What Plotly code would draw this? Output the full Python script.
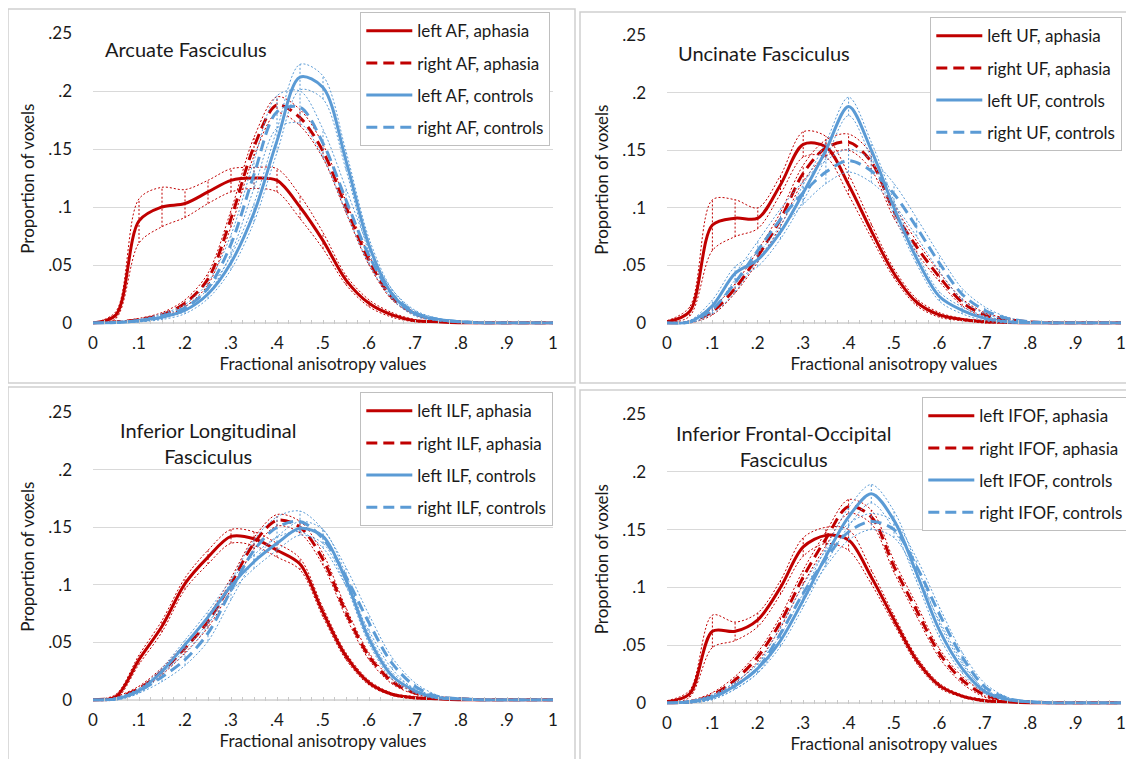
import plotly.graph_objects as go

# ---------------- data ----------------
fa_values = [round(0.05 * i, 2) for i in range(21)]

x_tick_vals = [0, 0.1, 0.2, 0.3, 0.4, 0.5, 0.6, 0.7, 0.8, 0.9, 1.0]
x_tick_text = ["0", ".1", ".2", ".3", ".4", ".5", ".6", ".7", ".8", ".9", "1"]
y_tick_vals = [0, 0.05, 0.1, 0.15, 0.2, 0.25]
y_tick_text = ["0", ".05", ".1", ".15", ".2", ".25"]

panel_titles = ["Arcuate Fasciculus", "Uncinate Fasciculus",
                "Inferior Longitudinal<br>Fasciculus",
                "Inferior Frontal-Occipital<br>Fasciculus"]
tract_abbr = ["AF", "UF", "ILF", "IFOF"]

# Arcuate Fasciculus
af_left_aph = [0, 0.007, 0.088, 0.100, 0.103, 0.113, 0.123, 0.125, 0.123, 0.100, 0.071, 0.037, 0.017, 0.007, 0.002, 0.001, 0, 0, 0, 0, 0]
af_left_aph_ci = [0, 0.003, 0.019, 0.017, 0.012, 0.010, 0.010, 0.009, 0.010, 0.010, 0.007, 0.004, 0.003, 0.002, 0.001, 0, 0, 0, 0, 0, 0]
af_right_aph = [0, 0.001, 0.003, 0.007, 0.017, 0.038, 0.090, 0.152, 0.188, 0.177, 0.148, 0.100, 0.054, 0.022, 0.008, 0.002, 0.001, 0, 0, 0, 0]
af_right_aph_ci = [0, 0, 0.001, 0.002, 0.003, 0.005, 0.007, 0.008, 0.007, 0.007, 0.006, 0.005, 0.004, 0.002, 0.001, 0, 0, 0, 0, 0, 0]
af_left_ctl = [0, 0.0005, 0.002, 0.005, 0.011, 0.025, 0.052, 0.095, 0.157, 0.212, 0.203, 0.140, 0.067, 0.025, 0.008, 0.003, 0.001, 0, 0, 0, 0]
af_left_ctl_ci = [0, 0, 0.001, 0.002, 0.003, 0.004, 0.006, 0.008, 0.010, 0.011, 0.010, 0.008, 0.006, 0.004, 0.002, 0.001, 0, 0, 0, 0, 0]
af_right_ctl = [0, 0.0005, 0.002, 0.006, 0.013, 0.030, 0.068, 0.128, 0.182, 0.186, 0.155, 0.106, 0.058, 0.025, 0.009, 0.003, 0.001, 0, 0, 0, 0]
af_right_ctl_ci = [0, 0, 0.001, 0.002, 0.003, 0.005, 0.008, 0.012, 0.014, 0.014, 0.012, 0.010, 0.007, 0.004, 0.002, 0.001, 0, 0, 0, 0, 0]

# Uncinate Fasciculus
uf_left_aph = [0.001, 0.010, 0.085, 0.091, 0.091, 0.120, 0.155, 0.153, 0.120, 0.080, 0.043, 0.018, 0.007, 0.003, 0.001, 0.0005, 0, 0, 0, 0, 0]
uf_left_aph_ci = [0.001, 0.004, 0.022, 0.016, 0.009, 0.008, 0.011, 0.009, 0.009, 0.006, 0.004, 0.003, 0.002, 0.001, 0.001, 0, 0, 0, 0, 0, 0]
uf_right_aph = [0, 0.001, 0.010, 0.030, 0.058, 0.090, 0.130, 0.152, 0.157, 0.140, 0.097, 0.066, 0.040, 0.018, 0.007, 0.003, 0.001, 0, 0, 0, 0]
uf_right_aph_ci = [0, 0.001, 0.003, 0.004, 0.005, 0.006, 0.007, 0.007, 0.007, 0.007, 0.006, 0.005, 0.004, 0.003, 0.002, 0.001, 0, 0, 0, 0, 0]
uf_left_ctl = [0, 0.001, 0.015, 0.043, 0.055, 0.079, 0.113, 0.150, 0.188, 0.150, 0.100, 0.056, 0.023, 0.011, 0.004, 0.001, 0, 0, 0, 0, 0]
uf_left_ctl_ci = [0, 0.001, 0.005, 0.006, 0.006, 0.006, 0.007, 0.007, 0.008, 0.007, 0.006, 0.005, 0.004, 0.003, 0.002, 0.001, 0, 0, 0, 0, 0]
uf_right_ctl = [0, 0.001, 0.012, 0.035, 0.063, 0.090, 0.113, 0.131, 0.141, 0.132, 0.112, 0.083, 0.052, 0.025, 0.011, 0.004, 0.001, 0, 0, 0, 0]
uf_right_ctl_ci = [0, 0.001, 0.004, 0.008, 0.008, 0.009, 0.010, 0.010, 0.010, 0.010, 0.009, 0.008, 0.007, 0.005, 0.003, 0.001, 0, 0, 0, 0, 0]

# Inferior Longitudinal Fasciculus
ilf_left_aph = [0, 0.003, 0.035, 0.064, 0.101, 0.124, 0.142, 0.140, 0.130, 0.118, 0.076, 0.038, 0.015, 0.005, 0.002, 0.001, 0, 0, 0, 0, 0]
ilf_left_aph_ci = [0, 0.002, 0.004, 0.005, 0.005, 0.006, 0.006, 0.006, 0.006, 0.005, 0.004, 0.003, 0.002, 0.001, 0.001, 0, 0, 0, 0, 0, 0]
ilf_right_aph = [0, 0.002, 0.010, 0.025, 0.045, 0.068, 0.101, 0.136, 0.156, 0.150, 0.122, 0.076, 0.038, 0.016, 0.006, 0.002, 0.001, 0, 0, 0, 0]
ilf_right_aph_ci = [0, 0.001, 0.002, 0.003, 0.004, 0.005, 0.005, 0.005, 0.005, 0.005, 0.005, 0.004, 0.003, 0.002, 0.001, 0, 0, 0, 0, 0, 0]
ilf_left_ctl = [0, 0.001, 0.008, 0.025, 0.048, 0.072, 0.099, 0.120, 0.136, 0.149, 0.142, 0.104, 0.053, 0.021, 0.008, 0.002, 0.001, 0, 0, 0, 0]
ilf_left_ctl_ci = [0, 0.001, 0.002, 0.003, 0.004, 0.005, 0.005, 0.006, 0.006, 0.006, 0.006, 0.005, 0.004, 0.003, 0.002, 0.001, 0, 0, 0, 0, 0]
ilf_right_ctl = [0, 0.001, 0.008, 0.020, 0.035, 0.058, 0.095, 0.130, 0.150, 0.155, 0.140, 0.107, 0.067, 0.032, 0.012, 0.003, 0.001, 0, 0, 0, 0]
ilf_right_ctl_ci = [0, 0.001, 0.002, 0.004, 0.005, 0.007, 0.008, 0.009, 0.009, 0.009, 0.008, 0.008, 0.007, 0.005, 0.003, 0.001, 0, 0, 0, 0, 0]

# Inferior Frontal-Occipital Fasciculus
ifof_left_aph = [0.001, 0.008, 0.062, 0.062, 0.072, 0.100, 0.135, 0.145, 0.141, 0.109, 0.072, 0.037, 0.015, 0.006, 0.002, 0.001, 0, 0, 0, 0, 0]
ifof_left_aph_ci = [0.001, 0.003, 0.014, 0.008, 0.006, 0.006, 0.008, 0.007, 0.009, 0.006, 0.004, 0.003, 0.002, 0.001, 0.001, 0, 0, 0, 0, 0, 0]
ifof_right_aph = [0, 0.001, 0.007, 0.020, 0.040, 0.070, 0.109, 0.142, 0.170, 0.161, 0.118, 0.080, 0.043, 0.020, 0.007, 0.002, 0.001, 0, 0, 0, 0]
ifof_right_aph_ci = [0, 0.001, 0.002, 0.003, 0.004, 0.005, 0.006, 0.006, 0.006, 0.006, 0.005, 0.005, 0.004, 0.003, 0.002, 0.001, 0, 0, 0, 0, 0]
ifof_left_ctl = [0, 0.001, 0.005, 0.015, 0.030, 0.054, 0.089, 0.127, 0.161, 0.181, 0.158, 0.112, 0.063, 0.030, 0.010, 0.003, 0.001, 0, 0, 0, 0]
ifof_left_ctl_ci = [0, 0.001, 0.002, 0.003, 0.004, 0.005, 0.006, 0.007, 0.008, 0.008, 0.008, 0.007, 0.006, 0.004, 0.002, 0.001, 0, 0, 0, 0, 0]
ifof_right_ctl = [0, 0.001, 0.005, 0.015, 0.030, 0.060, 0.095, 0.125, 0.148, 0.157, 0.150, 0.118, 0.077, 0.040, 0.014, 0.004, 0.001, 0, 0, 0, 0]
ifof_right_ctl_ci = [0, 0.001, 0.002, 0.003, 0.004, 0.006, 0.007, 0.007, 0.007, 0.007, 0.007, 0.007, 0.006, 0.004, 0.003, 0.001, 0, 0, 0, 0, 0]

panels = [
    [(af_left_aph, af_left_aph_ci), (af_right_aph, af_right_aph_ci),
     (af_left_ctl, af_left_ctl_ci), (af_right_ctl, af_right_ctl_ci)],
    [(uf_left_aph, uf_left_aph_ci), (uf_right_aph, uf_right_aph_ci),
     (uf_left_ctl, uf_left_ctl_ci), (uf_right_ctl, uf_right_ctl_ci)],
    [(ilf_left_aph, ilf_left_aph_ci), (ilf_right_aph, ilf_right_aph_ci),
     (ilf_left_ctl, ilf_left_ctl_ci), (ilf_right_ctl, ilf_right_ctl_ci)],
    [(ifof_left_aph, ifof_left_aph_ci), (ifof_right_aph, ifof_right_aph_ci),
     (ifof_left_ctl, ifof_left_ctl_ci), (ifof_right_ctl, ifof_right_ctl_ci)],
]

# ---------------- styles ----------------
RED = "#C00000"
BLUE = "#5B9BD5"
TXT = "#1a1a1a"
FONT = "Lato, 'Open Sans', sans-serif"
W, H = 1134, 759
OFF = 8  # page body margin offset


def px(xp):
    return (xp - OFF) / W


def py(yp):
    return 1 - (yp - OFF) / H


series_style = [
    ("left {}, aphasia", RED, "solid"),
    ("right {}, aphasia", RED, "11px,6px"),
    ("left {}, controls", BLUE, "solid"),
    ("right {}, controls", BLUE, "11px,6px"),
]

# page-pixel layout of each panel: (x0px, x1px, y_zero_px, y_top_px)
plot_px = [(93, 553, 323, 33), (667, 1121, 323, 35),
           (93, 553, 700, 412), (667, 1121, 703, 414)]
legend_px = [(360, 12), (930, 17), (360, 392), (922, 397)]
title_px = [(103, 49, "left"), (676, 53, "left"), (208, 443, "center"), (783, 446, "center")]
border_px = [(8, 575, 9, 383), (580, 1150, 12, 383), (8, 575, 387, 775), (580, 1150, 390, 775)]

Y_RANGE = [-0.0012, 0.25]

fig = go.Figure()
shapes = []
annotations = []

for p, curves in enumerate(panels):
    xa = "x" if p == 0 else f"x{p + 1}"
    ya = "y" if p == 0 else f"y{p + 1}"
    leg = "legend" if p == 0 else f"legend{p + 1}"
    for k, (mean, ci) in enumerate(curves):
        name_t, color, dash = series_style[k]
        name = name_t.format(tract_abbr[p])
        grp = f"p{p}s{k}"
        upper = [m + c for m, c in zip(mean, ci)]
        lower = [max(m - c, 0) for m, c in zip(mean, ci)]
        for band in (upper, lower):
            fig.add_trace(go.Scatter(
                x=fa_values, y=band, mode="lines", xaxis=xa, yaxis=ya,
                line=dict(color=color, width=1, dash="2px,2px", shape="spline", smoothing=0.9),
                showlegend=False, legendgroup=grp, legend=leg, hoverinfo="skip"))
        ex, ey = [], []
        for xv, lo, hi in zip(fa_values, lower, upper):
            ex += [xv, xv, None]
            ey += [lo, hi, None]
        fig.add_trace(go.Scatter(
            x=ex, y=ey, mode="lines", xaxis=xa, yaxis=ya,
            line=dict(color=color, width=1, dash="2px,2px"),
            showlegend=False, legendgroup=grp, legend=leg, hoverinfo="skip"))
        fig.add_trace(go.Scatter(
            x=fa_values, y=mean, mode="lines", name=name, xaxis=xa, yaxis=ya,
            line=dict(color=color, width=3, dash=dash, shape="spline", smoothing=0.9),
            legendgroup=grp, legend=leg))

layout = dict(
    width=W, height=H, margin=dict(l=0, r=0, t=0, b=0, autoexpand=False),
    paper_bgcolor="white", plot_bgcolor="white",
    font=dict(family=FONT, color=TXT, size=17),
    showlegend=True,
)

for p in range(4):
    x0, x1, yz, yt = plot_px[p]
    span = (yz - yt) / 0.25 * (Y_RANGE[1] - Y_RANGE[0])
    ybot = yt + span
    sfx = "" if p == 0 else str(p + 1)
    layout["xaxis" + sfx] = dict(
        domain=[px(x0), px(x1)], range=[0, 1], anchor="y" + sfx,
        tickvals=x_tick_vals, ticktext=x_tick_text,
        ticks="inside", ticklen=4, tickcolor="#C8C8C8",
        minor=dict(ticks="inside", dtick=0.025, tick0=0, ticklen=4, tickcolor="#C8C8C8", showgrid=False),
        showgrid=False, zeroline=False, showline=False,
        tickfont=dict(size=17, color=TXT), ticklabelstandoff=7, ticklabeloverflow="allow",
        title=dict(text="Fractional anisotropy values", font=dict(size=17), standoff=5),
        fixedrange=True,
    )
    layout["yaxis" + sfx] = dict(
        domain=[py(ybot), py(yt)], range=Y_RANGE, anchor="x" + sfx,
        tickvals=y_tick_vals, ticktext=y_tick_text,
        showgrid=True, gridcolor="#D9D9D9", gridwidth=1.3,
        zeroline=False, showline=False, ticks="",
        tickfont=dict(size=17, color=TXT), ticklabelstandoff=20,
        title=dict(text="Proportion of voxels", font=dict(size=17), standoff=9),
        fixedrange=True,
    )
    shapes.append(dict(type="line", xref=f"x{sfx} domain", yref="y" + sfx,
                       x0=0, x1=1, y0=0, y1=0, line=dict(color="#D0D0D0", width=1.3), layer="below"))
    lx, ly = legend_px[p]
    layout["legend" + sfx] = dict(
        x=px(lx), y=py(ly), xanchor="left", yanchor="top",
        bgcolor="white", bordercolor="#BFBFBF", borderwidth=1.3,
        font=dict(size=17, color=TXT),
        traceorder="grouped", tracegroupgap=7, itemwidth=46,
    )
    tx, ty, al = title_px[p]
    annotations.append(dict(
        text=panel_titles[p], x=px(tx), y=py(ty), xref="paper", yref="paper",
        xanchor=al, yanchor="middle", align="center", showarrow=False,
        font=dict(size=20, color=TXT)))
    bx0, bx1, by0, by1 = border_px[p]
    shapes.append(dict(type="rect", xref="paper", yref="paper",
                       x0=px(bx0), x1=px(bx1), y0=py(by1), y1=py(by0),
                       line=dict(color="#CFCFCF", width=1.5), fillcolor="rgba(0,0,0,0)", layer="below"))

layout["shapes"] = shapes
layout["annotations"] = annotations
fig.update_layout(**layout)

fig.write_html("out.html")
